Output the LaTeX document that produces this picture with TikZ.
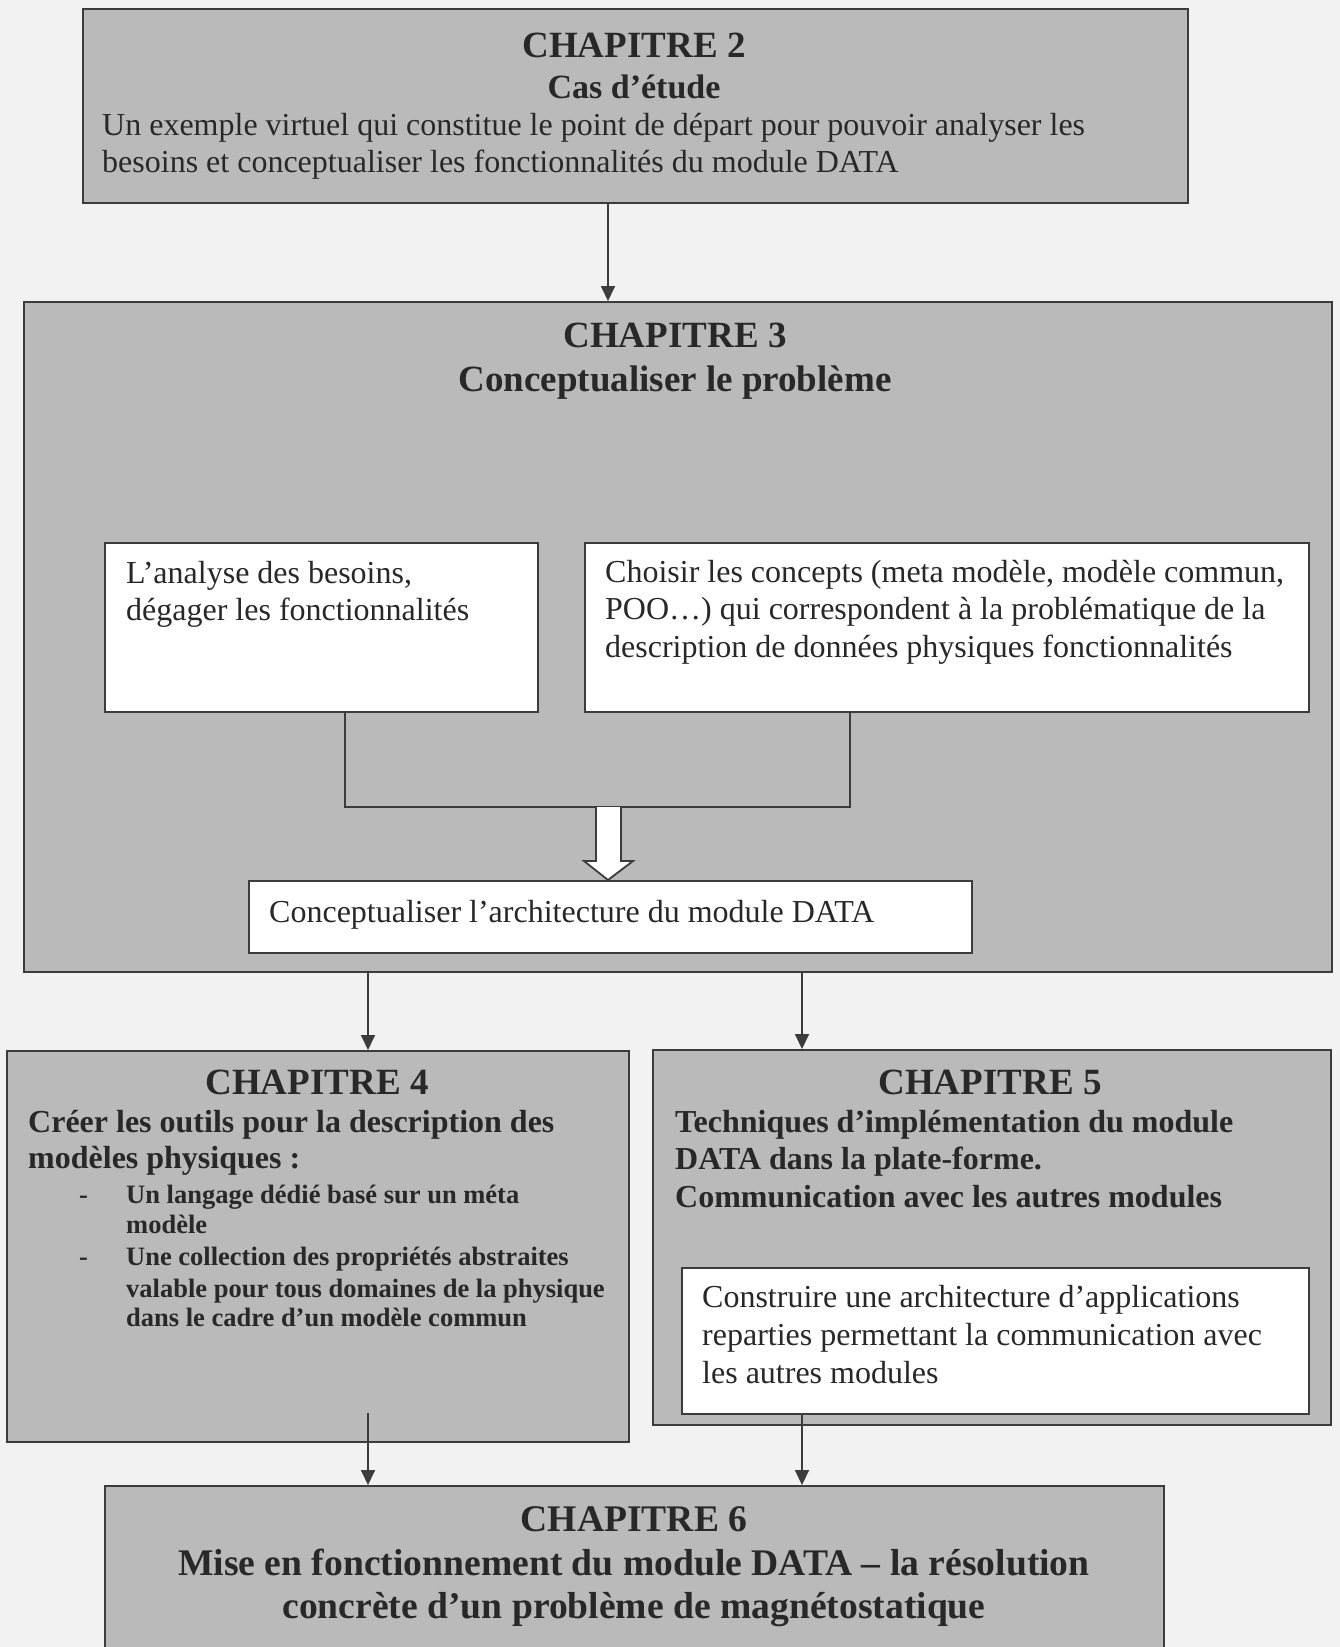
\documentclass[tikz,border=0pt]{standalone}
\usepackage{fontspec}
\setmainfont{Liberation Serif}
\usetikzlibrary{arrows.meta}

\definecolor{pagebg}{RGB}{242,242,242}
\definecolor{boxgray}{RGB}{186,186,186}
\definecolor{edgec}{RGB}{60,60,60}
\definecolor{inkc}{RGB}{40,40,40}

\tikzset{
  chbox/.style={draw=edgec, fill=boxgray, line width=2.2pt, rectangle, inner sep=0pt, anchor=north west},
  wbox/.style={draw=edgec, fill=white, line width=2pt, rectangle, inner sep=0pt, anchor=north west},
  txt/.style={text=inkc, inner sep=0pt},
  headf/.style={txt, font=\fontsize{37}{44}\selectfont\bfseries, anchor=base},
  subf/.style={txt, font=\fontsize{34}{40}\selectfont\bfseries, anchor=base},
  lastf/.style={txt, font=\fontsize{37.6}{44}\selectfont\bfseries, anchor=base},
  bodyf/.style={txt, font=\fontsize{32}{38}\selectfont, anchor=base west},
  bboldf/.style={txt, font=\fontsize{32}{38}\selectfont\bfseries, anchor=base west},
  smallf/.style={txt, font=\fontsize{26.5}{31}\selectfont\bfseries, anchor=base west},
  conn/.style={draw=edgec, line width=1.8pt},
  arr/.style={conn, -{Triangle[length=15pt,width=14pt]}},
}

\begin{document}
\begin{tikzpicture}[x=1pt, y=-1pt]
  \clip (0,0) rectangle (1340,1647);
  \fill[pagebg] (0,0) rectangle (1340,1647);

  % --- Chapitre 2
  \node[chbox, minimum width=1105, minimum height=194] (ch2) at (82,8) {};
  \node[headf] (ch2h) at (634,57) {CHAPITRE 2};
  \node[subf] (ch2t) at (634,98) {Cas d’étude};
  \node[bodyf] (ch2a) at (102,135) {Un exemple virtuel qui constitue le point de départ pour pouvoir analyser les};
  \node[bodyf] (ch2b) at (102,172) {besoins et conceptualiser les fonctionnalités du module DATA};

  % --- Chapitre 3
  \node[chbox, minimum width=1308, minimum height=670] (ch3) at (23,301) {};
  \node[headf] (ch3h) at (675,347) {CHAPITRE 3};
  \node[headf] (ch3t) at (675,391) {Conceptualiser le problème};

  \node[wbox, minimum width=433, minimum height=169] (besoins) at (104,542) {};
  \node[bodyf] (bes1) at (126,583) {L’analyse des besoins,};
  \node[bodyf] (bes2) at (126,620) {dégager les fonctionnalités};

  \node[wbox, minimum width=724, minimum height=169] (concepts) at (584,542) {};
  \node[bodyf] (con1) at (605,582) {Choisir les concepts (meta modèle, modèle commun,};
  \node[bodyf] (con2) at (605,619) {POO…) qui correspondent à la problématique de la};
  \node[bodyf] (con3) at (605,657) {description de données physiques fonctionnalités};

  \node[wbox, minimum width=723, minimum height=72] (archi) at (248,880) {};
  \node[bodyf] (archit) at (269,922) {Conceptualiser l’architecture du module DATA};

  % bracket joining the two analysis boxes
  \coordinate (bl) at (345,807);
  \coordinate (br) at (850,807);
  \draw[conn] (besoins.south -| bl) -- (bl) -- (br) -- (concepts.south -| br);

  % hollow arrow towards the architecture box
  \coordinate (hx) at (608,0);
  \draw[draw=edgec, fill=white, line width=1.8pt, line join=miter]
    ([xshift=-12pt]hx |- bl) -- ([xshift=-12pt,yshift=-54pt]hx |- bl)
    -- ([xshift=-24pt,yshift=-54pt]hx |- bl) -- (hx |- archi.north)
    -- ([xshift=25pt,yshift=-54pt]hx |- bl) -- ([xshift=13pt,yshift=-54pt]hx |- bl)
    -- ([xshift=13pt]hx |- bl);

  % --- Chapitre 4
  \node[chbox, minimum width=622, minimum height=391] (ch4) at (6,1050) {};
  \node[headf] (ch4h) at (317,1094) {CHAPITRE 4};
  \node[bboldf] (ch4a) at (28,1132) {Créer les outils pour la description des};
  \node[bboldf] (ch4b) at (28,1168) {modèles physiques :};
  \node[smallf] (d1) at (79,1203) {-};
  \node[smallf] (i1a) at (126,1203) {Un langage dédié basé sur un méta};
  \node[smallf] (i1b) at (126,1233) {modèle};
  \node[smallf] (d2) at (79,1265) {-};
  \node[smallf] (i2a) at (126,1265) {Une collection des propriétés abstraites};
  \node[smallf] (i2b) at (126,1297) {valable pour tous domaines de la physique};
  \node[smallf] (i2c) at (126,1326) {dans le cadre d’un modèle commun};

  % --- Chapitre 5
  \node[chbox, minimum width=678, minimum height=375] (ch5) at (652,1049) {};
  \node[headf] (ch5h) at (990,1094) {CHAPITRE 5};
  \node[bboldf] (ch5a) at (675,1132) {Techniques d’implémentation du module};
  \node[bboldf] (ch5b) at (675,1169) {DATA dans la plate-forme.};
  \node[bboldf] (ch5c) at (675,1207) {Communication avec les autres modules};

  \node[wbox, minimum width=627, minimum height=146] (reparti) at (681,1267) {};
  \node[bodyf] (rep1) at (702,1307) {Construire une architecture d’applications};
  \node[bodyf] (rep2) at (702,1345) {reparties permettant la communication avec};
  \node[bodyf] (rep3) at (702,1383) {les autres modules};

  % --- Chapitre 6 (runs past the bottom edge)
  \node[chbox, minimum width=1059, minimum height=260] (ch6) at (104,1485) {};
  \node[lastf] (ch6h) at (634,1531) {CHAPITRE 6};
  \node[lastf] (ch6a) at (634,1575) {Mise en fonctionnement du module DATA – la résolution};
  \node[lastf] (ch6b) at (634,1618) {concrète d’un problème de magnétostatique};

  % --- arrows between chapters
  \coordinate (cA) at (608,0);
  \coordinate (cL) at (368,0);
  \coordinate (cR) at (802,0);
  \coordinate (sL) at (368,1413);
  \draw[arr] (cA |- ch2.south) -- (cA |- ch3.north);
  \draw[arr] (cL |- ch3.south) -- (cL |- ch4.north);
  \draw[arr] (cR |- ch3.south) -- (cR |- ch5.north);
  \draw[arr] (sL) -- (cL |- ch6.north);
  \draw[arr] (cR |- reparti.south) -- (cR |- ch6.north);
\end{tikzpicture}
\end{document}
